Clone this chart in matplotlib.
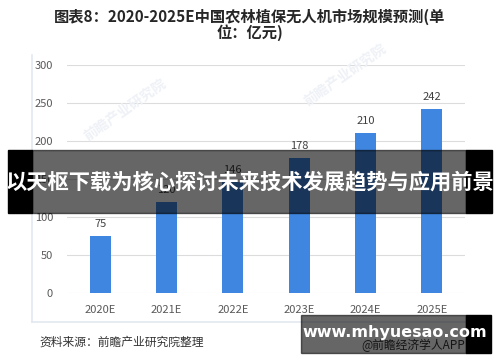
import matplotlib
matplotlib.use("Agg")
import matplotlib.pyplot as plt
from matplotlib.patches import Rectangle
from matplotlib.lines import Line2D

plt.rcParams['font.family'] = ['Noto Sans CJK SC', 'DejaVu Sans']

# data
years = ["2020E", "2021E", "2022E", "2023E", "2024E", "2025E"]
market = [75, 120, 146, 178, 210, 242]
y_ticks = [0, 50, 100, 150, 200, 250, 300]

title = "图表8：2020-2025E中国农林植保无人机市场规模预测(单\n位：亿元)"
banner = "以天枢下载为核心探讨未来技术发展趋势与应用前景"
source = "资料来源：前瞻产业研究院整理"
credit = "@前瞻经济学人APP"
site = "www.mhyuesao.com"

W, H = 500, 362


def fx(px):
    return px / W


def fy(py):
    return 1 - py / H


fig = plt.figure(figsize=(5, 3.62), dpi=100)
fig.patch.set_facecolor("white")

ax = fig.add_axes([fx(67), fy(292.7), fx(465) - fx(67), fy(65) - fy(292.7)])
x = list(range(len(years)))
bars = ax.bar(x, market, width=0.32, color="#3f86e0", zorder=3)
for xi, v in zip(x, market):
    ax.text(xi, v + 9, str(v), ha="center", va="bottom", fontsize=8, color="#404040")

ax.set_xlim(-0.5, 5.5)
ax.set_ylim(0, 300)
ax.set_yticks(y_ticks)
ax.set_xticks(x)
ax.set_xticklabels(years)
ax.tick_params(length=0, labelsize=8, colors="#595959")
ax.tick_params(axis="y", pad=10)
ax.tick_params(axis="x", pad=9)
ax.grid(axis="y", color="#dcdcdc", linewidth=0.8, zorder=0)
for s in ax.spines.values():
    s.set_visible(False)
ax.set_facecolor("none")

# chart panel frame
for seg in [((32, 32), (55, 322)), ((32, 466), (322, 322))]:
    fig.add_artist(Line2D([fx(p) for p in seg[0]], [fy(p) for p in seg[1]],
                          color="#e3e8f0", linewidth=1.2))

fig.text(0.5, fy(25), title, ha="center", va="center", fontsize=11,
         fontweight="bold", color="#262626", linespacing=0.95)

# faint watermarks
for (wx, wy) in [(125, 110), (345, 75)]:
    fig.text(fx(wx), fy(wy), "前瞻产业研究院", fontsize=10, color="#eef1f6",
             rotation=35, ha="center", va="center", zorder=0, fontweight="bold")

fig.text(fx(39), fy(342), source, ha="left", va="center", fontsize=8.5, color="#333333")
fig.text(fx(465), fy(345), credit, ha="right", va="center", fontsize=8.5, color="#333333")

# overlay banner
fig.add_artist(Rectangle((fx(32), fy(212.7)), fx(466) - fx(32), fy(150) - fy(212.7),
                         transform=fig.transFigure, color="black", alpha=0.6, zorder=10))
for x0, x1 in [(8, 32), (466, 492)]:
    fig.add_artist(Rectangle((fx(x0), fy(212.7)), fx(x1) - fx(x0), fy(150) - fy(212.7),
                             transform=fig.transFigure, color="black", zorder=10))
fig.text(0.5, fy(181.5), banner, ha="center", va="center", fontsize=15.3,
         fontweight="bold", color="white", zorder=11)

# site box
fig.add_artist(Rectangle((fx(301), fy(352.7)), fx(466) - fx(301), fy(315) - fy(352.7),
                         transform=fig.transFigure, color="black", alpha=0.6, zorder=10))
fig.add_artist(Rectangle((fx(466), fy(352.7)), fx(491) - fx(466), fy(315) - fy(352.7),
                         transform=fig.transFigure, color="black", zorder=10))
fig.text(fx(395), fy(333), site, ha="center", va="center", fontsize=11.5,
         fontweight="bold", color="white", family="DejaVu Sans", zorder=11)

fig.savefig("out.png", dpi=100)
